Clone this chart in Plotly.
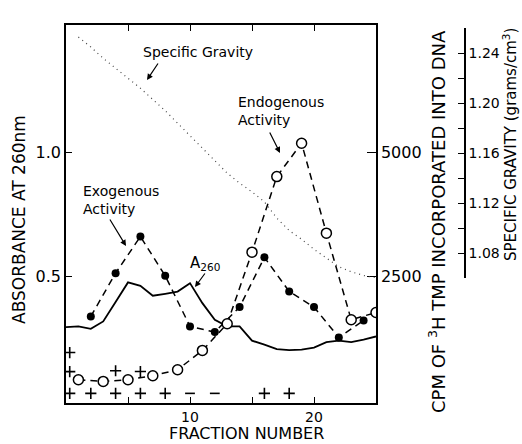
import plotly.graph_objects as go

# ---------------- data ----------------
frac_a260 = list(range(0, 26))
a260 = [0.293, 0.296, 0.286, 0.316, 0.395, 0.474, 0.460, 0.420, 0.428, 0.437,
        0.471, 0.390, 0.323, 0.296, 0.296, 0.238, 0.222, 0.204, 0.200, 0.202,
        0.210, 0.232, 0.238, 0.232, 0.242, 0.255]

frac_exo = [2, 4, 6, 8, 10, 12, 14, 16, 18, 20, 22, 24]
cpm_exo = [1680, 2558, 3299, 2504, 1478, 1364, 1870, 2878, 2186, 1870, 1255, 1600]

frac_endo = [1, 3, 5, 7, 9, 11, 13, 15, 17, 19, 21, 23, 25]
cpm_endo = [399, 364, 399, 480, 601, 992, 1532, 2983, 4514, 5190, 3368, 1613, 1761]

frac_sg = list(range(1, 26))
sg = [1.253, 1.245, 1.236, 1.228, 1.220, 1.212, 1.203, 1.194, 1.184, 1.174,
      1.164, 1.154, 1.144, 1.136, 1.129, 1.121, 1.108, 1.098, 1.091, 1.083,
      1.076, 1.069, 1.065, 1.062, 1.060]

frac_plus = [0.3, 0.3, 0.3, 2, 4, 6, 8, 16, 18, 4, 6]
cpm_plus = [122, 563, 949, 122, 122, 122, 122, 122, 122, 580, 565]
frac_minus = [10, 12]
cpm_minus = [122, 122]

x_ticks = [5, 10, 15, 20]
x_ticktext = ["", "10", "", "20"]
a_ticks = [0.5, 1.0]
a_ticktext = ["0.5", "1.0"]
cpm_ticks = [2500, 5000]
cpm_ticktext = ["2500", "5000"]
sg_ticks = [1.06, 1.08, 1.10, 1.12, 1.14, 1.16, 1.18, 1.20, 1.22, 1.24, 1.26]
sg_ticktext = ["", "1.08", "", "1.12", "", "1.16", "", "1.20", "", "1.24", ""]

# ---------------- geometry helpers ----------------
W, H = 522, 444
L, R, T, B = 66, 57, 25, 41
PW, PH = W - L - R, H - T - B
X_END = 376


def px(X):
    return (X - L) / PW


def py(Y):
    return (H - B - Y) / PH


FONT = "DejaVu Sans"
BLACK = "black"

fig = go.Figure()

fig.add_trace(go.Scatter(x=frac_a260, y=a260, mode="lines",
                         line=dict(color=BLACK, width=1.8), yaxis="y",
                         showlegend=False))
fig.add_trace(go.Scatter(x=frac_sg, y=sg, mode="lines",
                         line=dict(color="#444", width=1.2, dash="1px,4px"),
                         xaxis="x", yaxis="y3", showlegend=False))
fig.add_trace(go.Scatter(x=frac_exo, y=cpm_exo, mode="lines+markers",
                         line=dict(color=BLACK, width=1.5, dash="7px,5px"),
                         marker=dict(symbol="circle", size=8, color=BLACK),
                         yaxis="y2", showlegend=False))
fig.add_trace(go.Scatter(x=frac_endo, y=cpm_endo, mode="lines+markers",
                         line=dict(color=BLACK, width=1.5, dash="7px,5px"),
                         marker=dict(symbol="circle", size=10, color="white",
                                     line=dict(color=BLACK, width=1.5)),
                         yaxis="y2", showlegend=False))
fig.add_trace(go.Scatter(x=frac_plus, y=cpm_plus, mode="markers",
                         marker=dict(symbol="cross-thin", size=8,
                                     line=dict(color=BLACK, width=1.6)),
                         yaxis="y2", showlegend=False))
fig.add_trace(go.Scatter(x=frac_minus, y=cpm_minus, mode="markers",
                         marker=dict(symbol="line-ew", size=7,
                                     line=dict(color=BLACK, width=1.6)),
                         yaxis="y2", showlegend=False))

a_lo, a_hi = -0.0146, 1.517
xdom_end = px(X_END)

fig.update_layout(
    width=W, height=H,
    margin=dict(l=L, r=R, t=T, b=B, pad=0),
    paper_bgcolor="white", plot_bgcolor="rgba(0,0,0,0)",
    font=dict(family=FONT, size=16, color=BLACK),
    xaxis=dict(domain=[0, xdom_end], range=[0, 25], showgrid=False,
               zeroline=False, showline=True, linecolor=BLACK, linewidth=1.5,
               mirror="ticks", ticks="inside", ticklen=6, tickwidth=1.3,
               tickcolor=BLACK, tickvals=x_ticks, ticktext=x_ticktext,
               tickfont=dict(size=14)),
    yaxis=dict(range=[a_lo, a_hi], showgrid=False, zeroline=False,
               showline=True, linecolor=BLACK, linewidth=1.5,
               ticks="inside", ticklen=6, tickwidth=1.3, tickcolor=BLACK,
               tickvals=a_ticks, ticktext=a_ticktext, tickfont=dict(size=16)),
    yaxis2=dict(range=[a_lo * 5000, a_hi * 5000], overlaying="y", side="right",
                anchor="x", showgrid=False, zeroline=False, showline=True,
                linecolor=BLACK, linewidth=1.5, ticks="inside", ticklen=9,
                tickwidth=1.3, tickcolor=BLACK, tickvals=cpm_ticks,
                ticktext=cpm_ticktext, tickfont=dict(size=16)),
    yaxis3=dict(domain=[py(278), py(28.3)], range=[1.06, 1.26], anchor="free",
                position=1.0, side="right", showgrid=False, zeroline=False,
                showline=True, linecolor=BLACK, linewidth=1.5,
                ticks="inside", ticklen=6, tickwidth=1.3, tickcolor=BLACK,
                tickvals=sg_ticks, ticktext=sg_ticktext,
                tickfont=dict(size=14)),
)

ann = []
# axis titles
ann.append(dict(text="ABSORBANCE AT 260nm", x=px(19), y=py(220), textangle=-90,
                font=dict(size=17)))
ann.append(dict(text="CPM OF <sup>3</sup>H TMP INCORPORATED INTO DNA",
                x=px(437), y=py(222), textangle=-90, font=dict(size=18)))
ann.append(dict(text="SPECIFIC GRAVITY (grams/cm<sup>3</sup>)", x=px(510),
                y=py(145), textangle=-90, font=dict(size=15)))
ann.append(dict(text="FRACTION NUMBER", x=px(246), y=py(444),
                yanchor="bottom", borderpad=0, font=dict(size=16)))
# labels
ann.append(dict(text="Specific Gravity", x=px(141), y=py(52), xanchor="left",
                font=dict(size=14)))
ann.append(dict(text="Endogenous<br>Activity", x=px(236), y=py(111),
                xanchor="left", align="left", font=dict(size=14)))
ann.append(dict(text="Exogenous<br>Activity", x=px(81), y=py(200),
                xanchor="left", align="left", font=dict(size=14)))
ann.append(dict(text="A<sub>260</sub>", x=px(188), y=py(263), xanchor="left",
                font=dict(size=15)))

for a in ann:
    a.setdefault("xanchor", "center")
    a.setdefault("yanchor", "middle")
    a.update(xref="paper", yref="paper", showarrow=False)

arrows = [
    # (head X, head Y, tail X, tail Y)
    (147, 80, 159, 62),
    (280, 153, 269, 131),
    (126, 246, 109, 218),
    (195, 287, 206, 272),
]
for hx, hy, tx, ty in arrows:
    ann.append(dict(text="", x=px(hx), y=py(hy), xref="paper", yref="paper",
                    ax=tx - hx, ay=ty - hy, showarrow=True, arrowhead=2,
                    arrowsize=1, arrowwidth=1.2, arrowcolor=BLACK))

fig.update_layout(annotations=ann)

fig.write_html("out.html")
